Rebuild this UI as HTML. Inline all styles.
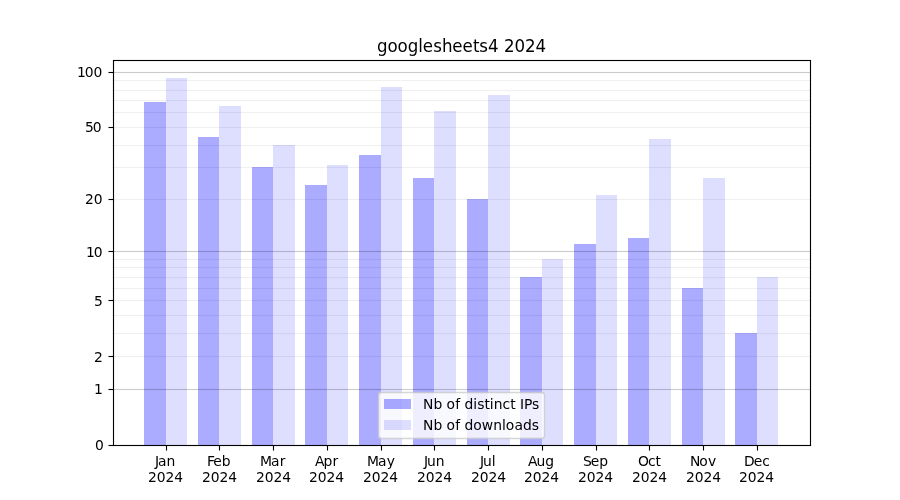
<!DOCTYPE html>
<html lang="en"><head><meta charset="utf-8"><title>googlesheets4 2024</title>
<style>html,body{margin:0;padding:0;background:#fff;overflow:hidden}svg{display:block}text{text-rendering:auto;font-family:"DejaVu Sans","Liberation Sans",sans-serif;fill:#000;}.t{font-size:13.889px}.h{font-size:16.667px}</style></head><body>
<svg width="900" height="500" viewBox="0 0 900 500">
<rect width="900" height="500" fill="#fff"/>
<g shape-rendering="crispEdges">
<rect x="144" y="102" width="22" height="343" fill="#00f" fill-opacity="0.33"/>
<rect x="166" y="78" width="21" height="367" fill="#00f" fill-opacity="0.13"/>
<rect x="198" y="137" width="21" height="308" fill="#00f" fill-opacity="0.33"/>
<rect x="219" y="106" width="22" height="339" fill="#00f" fill-opacity="0.13"/>
<rect x="252" y="167" width="21" height="278" fill="#00f" fill-opacity="0.33"/>
<rect x="273" y="145" width="22" height="300" fill="#00f" fill-opacity="0.13"/>
<rect x="305" y="185" width="22" height="260" fill="#00f" fill-opacity="0.33"/>
<rect x="327" y="165" width="21" height="280" fill="#00f" fill-opacity="0.13"/>
<rect x="359" y="155" width="22" height="290" fill="#00f" fill-opacity="0.33"/>
<rect x="381" y="87" width="21" height="358" fill="#00f" fill-opacity="0.13"/>
<rect x="413" y="178" width="21" height="267" fill="#00f" fill-opacity="0.33"/>
<rect x="434" y="111" width="22" height="334" fill="#00f" fill-opacity="0.13"/>
<rect x="467" y="199" width="21" height="246" fill="#00f" fill-opacity="0.33"/>
<rect x="488" y="95" width="22" height="350" fill="#00f" fill-opacity="0.13"/>
<rect x="520" y="277" width="22" height="168" fill="#00f" fill-opacity="0.33"/>
<rect x="542" y="259" width="21" height="186" fill="#00f" fill-opacity="0.13"/>
<rect x="574" y="244" width="22" height="201" fill="#00f" fill-opacity="0.33"/>
<rect x="596" y="195" width="21" height="250" fill="#00f" fill-opacity="0.13"/>
<rect x="628" y="238" width="21" height="207" fill="#00f" fill-opacity="0.33"/>
<rect x="649" y="139" width="22" height="306" fill="#00f" fill-opacity="0.13"/>
<rect x="682" y="288" width="21" height="157" fill="#00f" fill-opacity="0.33"/>
<rect x="703" y="178" width="22" height="267" fill="#00f" fill-opacity="0.13"/>
<rect x="735" y="333" width="22" height="112" fill="#00f" fill-opacity="0.33"/>
<rect x="757" y="277" width="21" height="168" fill="#00f" fill-opacity="0.13"/>
</g>
<rect x="112.5" y="388.930" width="698.0" height="1.140" fill="#000" fill-opacity="0.2"/>
<rect x="112.5" y="250.930" width="698.0" height="1.140" fill="#000" fill-opacity="0.2"/>
<rect x="112.5" y="71.930" width="698.0" height="1.140" fill="#000" fill-opacity="0.2"/>
<rect x="112.5" y="355.930" width="698.0" height="1.140" fill="#000" fill-opacity="0.06"/>
<rect x="112.5" y="332.930" width="698.0" height="1.140" fill="#000" fill-opacity="0.06"/>
<rect x="112.5" y="314.930" width="698.0" height="1.140" fill="#000" fill-opacity="0.06"/>
<rect x="112.5" y="299.930" width="698.0" height="1.140" fill="#000" fill-opacity="0.06"/>
<rect x="112.5" y="287.930" width="698.0" height="1.140" fill="#000" fill-opacity="0.06"/>
<rect x="112.5" y="276.930" width="698.0" height="1.140" fill="#000" fill-opacity="0.06"/>
<rect x="112.5" y="266.930" width="698.0" height="1.140" fill="#000" fill-opacity="0.06"/>
<rect x="112.5" y="258.930" width="698.0" height="1.140" fill="#000" fill-opacity="0.06"/>
<rect x="112.5" y="198.930" width="698.0" height="1.140" fill="#000" fill-opacity="0.06"/>
<rect x="112.5" y="166.930" width="698.0" height="1.140" fill="#000" fill-opacity="0.06"/>
<rect x="112.5" y="144.930" width="698.0" height="1.140" fill="#000" fill-opacity="0.06"/>
<rect x="112.5" y="126.930" width="698.0" height="1.140" fill="#000" fill-opacity="0.06"/>
<rect x="112.5" y="111.930" width="698.0" height="1.140" fill="#000" fill-opacity="0.06"/>
<rect x="112.5" y="99.930" width="698.0" height="1.140" fill="#000" fill-opacity="0.06"/>
<rect x="112.5" y="89.930" width="698.0" height="1.140" fill="#000" fill-opacity="0.06"/>
<rect x="112.5" y="79.930" width="698.0" height="1.140" fill="#000" fill-opacity="0.06"/>
<rect x="165.944" y="445.5" width="1.111" height="5.0" fill="#000" fill-opacity="1"/>
<rect x="218.944" y="445.5" width="1.111" height="5.0" fill="#000" fill-opacity="1"/>
<rect x="272.944" y="445.5" width="1.111" height="5.0" fill="#000" fill-opacity="1"/>
<rect x="326.944" y="445.5" width="1.111" height="5.0" fill="#000" fill-opacity="1"/>
<rect x="380.944" y="445.5" width="1.111" height="5.0" fill="#000" fill-opacity="1"/>
<rect x="433.944" y="445.5" width="1.111" height="5.0" fill="#000" fill-opacity="1"/>
<rect x="487.944" y="445.5" width="1.111" height="5.0" fill="#000" fill-opacity="1"/>
<rect x="541.944" y="445.5" width="1.111" height="5.0" fill="#000" fill-opacity="1"/>
<rect x="595.944" y="445.5" width="1.111" height="5.0" fill="#000" fill-opacity="1"/>
<rect x="648.944" y="445.5" width="1.111" height="5.0" fill="#000" fill-opacity="1"/>
<rect x="702.944" y="445.5" width="1.111" height="5.0" fill="#000" fill-opacity="1"/>
<rect x="756.944" y="445.5" width="1.111" height="5.0" fill="#000" fill-opacity="1"/>
<rect x="108.5" y="444.944" width="5.0" height="1.111" fill="#000" fill-opacity="1"/>
<rect x="108.5" y="388.944" width="5.0" height="1.111" fill="#000" fill-opacity="1"/>
<rect x="108.5" y="355.944" width="5.0" height="1.111" fill="#000" fill-opacity="1"/>
<rect x="108.5" y="299.944" width="5.0" height="1.111" fill="#000" fill-opacity="1"/>
<rect x="108.5" y="250.944" width="5.0" height="1.111" fill="#000" fill-opacity="1"/>
<rect x="108.5" y="198.944" width="5.0" height="1.111" fill="#000" fill-opacity="1"/>
<rect x="108.5" y="126.944" width="5.0" height="1.111" fill="#000" fill-opacity="1"/>
<rect x="108.5" y="71.944" width="5.0" height="1.111" fill="#000" fill-opacity="1"/>
<rect x="112.944" y="60" width="1.111" height="386" fill="#000" fill-opacity="1"/>
<rect x="809.944" y="60" width="1.111" height="386" fill="#000" fill-opacity="1"/>
<rect x="112.95" y="59.944" width="698.0999999999999" height="1.111" fill="#000" fill-opacity="1"/>
<rect x="112.95" y="444.944" width="698.0999999999999" height="1.111" fill="#000" fill-opacity="1"/>
<text class="t" style="font-size:14.583px" transform="translate(153.994 465.609) scale(0.95238 1)" x="1.05 4.288 13.217">Jan</text>
<text class="t" style="font-size:14.306px" transform="translate(147.901 481.661) scale(0.97087 1)" x="0 9.084 18.169 27.253">2024</text>
<text class="t" style="font-size:14.306px" transform="translate(206.017 465.609) scale(0.97087 1)" x="0.901 7.549 16.219">Feb</text>
<text class="t" style="font-size:14.083px" transform="translate(201.887 481.661) scale(0.98619 1)" x="0 8.936 17.889 26.841">2024</text>
<text class="t" style="font-size:14.583px" transform="translate(259.945 465.609) scale(0.95238 1)" x="0 11.527 20.718">Mar</text>
<text class="t" style="font-size:14.083px" transform="translate(255.874 481.661) scale(0.98619 1)" x="0.127 8.936 17.889 26.841">2024</text>
<text class="t" style="font-size:14.083px" transform="translate(314.145 465.609) scale(0.98619 1)" x="0.761 9.613 18.55">Apr</text>
<text class="t" style="font-size:14.083px" transform="translate(308.860 481.661) scale(0.98619 1)" x="0.127 8.936 17.889 26.841">2024</text>
<text class="t" style="font-size:14.306px" transform="translate(366.163 465.609) scale(0.97087 1)" x="0.773 12.319 21.199">May</text>
<text class="t" style="font-size:14.083px" transform="translate(362.847 481.661) scale(0.98619 1)" x="0.127 8.936 17.889 26.841">2024</text>
<text class="t" style="font-size:14.306px" transform="translate(422.906 465.609) scale(0.97087 1)" x="1.03 4.201 13.254">Jun</text>
<text class="t" style="font-size:14.083px" transform="translate(416.833 481.661) scale(0.98619 1)" x="0.127 8.936 17.889 26.841">2024</text>
<text class="t" style="font-size:14.306px" transform="translate(478.989 465.609) scale(0.97087 1)" x="1.03 4.201 13.254">Jul</text>
<text class="t" style="font-size:14.083px" transform="translate(470.820 481.661) scale(0.98619 1)" x="0.127 9.063 17.889 26.841">2024</text>
<text class="t" x="527.92 536.404 545.201" y="465.609">Aug</text>
<text class="t" style="font-size:14.083px" transform="translate(523.806 481.661) scale(0.98619 1)" x="0.127 9.063 17.889 26.841">2024</text>
<text class="t" style="font-size:14.583px" transform="translate(581.876 465.609) scale(0.95238 1)" x="1.181 9.249 18.21">Sep</text>
<text class="t" style="font-size:14.583px" transform="translate(577.793 481.661) scale(0.95238 1)" x="0.131 9.396 18.546 27.81">2024</text>
<text class="t" x="637.945 648.101 655.492" y="465.609">Oct</text>
<text class="t" style="font-size:14.306px" transform="translate(631.904 481.661) scale(0.97087 1)" x="0 9.084 18.169 27.253">2024</text>
<text class="t" style="font-size:14.306px" transform="translate(689.135 465.609) scale(0.97087 1)" x="0.901 10.412 19.421">Nov</text>
<text class="t" style="font-size:14.083px" transform="translate(685.891 481.661) scale(0.98619 1)" x="0 8.936 17.889 26.841">2024</text>
<text class="t" style="font-size:14.583px" transform="translate(742.987 465.609) scale(0.95238 1)" x="1.05 11.217 20.178">Dec</text>
<text class="t" style="font-size:14.083px" transform="translate(738.877 481.661) scale(0.98619 1)" x="0 8.936 17.889 26.841">2024</text>
<text class="t" style="font-size:14.083px" transform="translate(103.778 449.610) scale(0.98619 1)" x="-8.952">0</text>
<text class="t" style="font-size:14.083px" transform="translate(102.778 393.537) scale(0.98619 1)" x="-8.952">1</text>
<text class="t" style="font-size:14.083px" transform="translate(102.778 361.737) scale(0.98619 1)" x="-8.952">2</text>
<text class="t" style="font-size:14.083px" transform="translate(102.778 305.665) scale(0.98619 1)" x="-8.952">5</text>
<text class="t" style="font-size:14.083px" transform="translate(102.903 256.631) scale(0.98619 1)" x="-17.271 -9.348">10</text>
<text class="t" style="font-size:14.083px" transform="translate(102.653 203.822) scale(0.98619 1)" x="-17.904 -8.968">20</text>
<text class="t" style="font-size:14.083px" transform="translate(101.653 131.543) scale(0.98619 1)" x="-17.017 -8.968">50</text>
<text class="t" style="font-size:14.583px" transform="translate(102.403 76.767) scale(0.95238 1)" x="-26.776 -18.562 -9.281">100</text>
<text class="h" style="font-size:17.167px" transform="translate(461.500 51.500) scale(0.97087 1)" x="-87.091 -76.344 -65.977 -55.482 -44.59 -39.818 -29.146 -20.204 -9.457 1.102 11.774 18.174 27.309 38.232 43.686 54.594 65.502 76.168">googlesheets4 2024</text>
<path d="M381.28 438.50L541.72 438.50Q544.50 438.50 544.50 435.72L544.50 395.28Q544.50 392.50 541.72 392.50L381.28 392.50Q378.50 392.50 378.50 395.28L378.50 435.72Q378.50 438.50 381.28 438.50Z" fill="#fff" stroke="#ccc" stroke-width="1.35" opacity="0.8"/>
<g shape-rendering="crispEdges"><rect x="384" y="399" width="27" height="10" fill="#00f" fill-opacity="0.33"/>
<rect x="384" y="420" width="27" height="10" fill="#00f" fill-opacity="0.13"/></g>
<text class="t" style="font-size:14.306px" transform="translate(423.120 408.558) scale(0.97087 1)" x="0 10.67 19.738 24.031 33.024 38.05 42.6 51.669 55.761 63.326 68.68 72.644 81.697 89.674 95.157 99.691 103.908 112.264">Nb of distinct IPs</text>
<text class="t" style="font-size:14.583px" transform="translate(423.120 429.945) scale(0.95238 1)" x="0 10.897 20.146 24.524 33.699 38.835 43.46 52.724 61.637 73.558 82.807 86.855 95.899 104.828 113.962">Nb of downloads</text>
</svg></body></html>
